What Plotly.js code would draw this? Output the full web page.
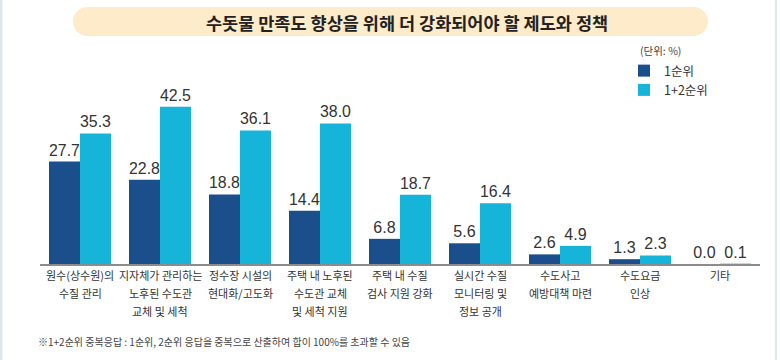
<!DOCTYPE html>
<html>
<head>
<meta charset="utf-8">
<script src="https://cdn.plot.ly/plotly-3.0.1.min.js"></script>
<style>html,body{margin:0;padding:0;background:#fff;}#chart{width:780px;height:360px;}</style>
</head>
<body>
<div id="chart"></div>
<script>
const categories = ['c1','c2','c3','c4','c5','c6','c7','c8','c9'];
const tickLabels = [
  ['원수(상수원)의', '수질 관리'],
  ['지자체가 관리하는', '노후된 수도관', '교체 및 세척'],
  ['정수장 시설의', '현대화/고도화'],
  ['주택 내 노후된', '수도관 교체', '및 세척 지원'],
  ['주택 내 수질', '검사 지원 강화'],
  ['실시간 수질', '모니터링 및', '정보 공개'],
  ['수도사고', '예방대책 마련'],
  ['수도요금', '인상'],
  ['기타']
];
const rank1 = [27.7, 22.8, 18.8, 14.4, 6.8, 5.6, 2.6, 1.3, 0.0];
const rank12 = [35.3, 42.5, 36.1, 38.0, 18.7, 16.4, 4.9, 2.3, 0.1];
const seriesNames = ['1순위', '1+2순위'];

const W = 780, H = 360;
const M = {l: 40, r: 20, t: 60, b: 96};
const PW = W - M.l - M.r, PH = H - M.t - M.b;
const px = v => (v - M.l) / PW;
const py = v => (H - M.b - v) / PH;

const FONT = '"Liberation Sans", Arial, "Noto Sans CJK KR", sans-serif';
const KFONT = '"Noto Sans CJK KR", "Noto Sans", sans-serif';

const traces = [
  {type: 'bar', x: categories, y: rank1, name: seriesNames[0],
   marker: {color: '#1b4f8b'}, texttemplate: '%{y:.1f}', textposition: 'outside',
   textfont: {family: FONT, size: 16, color: '#333'}, cliponaxis: false, hoverinfo: 'none'},
  {type: 'bar', x: categories, y: rank12, name: seriesNames[1],
   marker: {color: '#16b4d9'}, texttemplate: '%{y:.1f}', textposition: 'outside',
   textfont: {family: FONT, size: 16, color: '#333'}, cliponaxis: false, hoverinfo: 'none'}
];

const tickAnnots = [];
tickLabels.forEach((lines, i) => {
  lines.forEach((line, j) => {
    tickAnnots.push({text: line, xref: 'x', yref: 'paper', x: categories[i], y: py(275 + 18 * j),
      xanchor: 'center', yanchor: 'middle', showarrow: false,
      font: {family: KFONT, size: 11, color: '#333'}});
  });
});

const pill = {fillcolor: '#fdebc9', line: {width: 0}, layer: 'below'};
const layout = {
  width: W, height: H,
  margin: M,
  paper_bgcolor: '#fff', plot_bgcolor: 'rgba(0,0,0,0)',
  barmode: 'group', bargap: 0.225, bargroupgap: 0,
  showlegend: true,
  legend: {x: px(624), y: py(56), xanchor: 'left', yanchor: 'top',
    font: {family: KFONT, size: 12.5, color: '#333'}, tracegroupgap: 0,
    itemwidth: 30, bgcolor: 'rgba(0,0,0,0)'},
  xaxis: {type: 'category', showticklabels: false,
    showline: true, linecolor: '#8c8c8c', linewidth: 1.5, ticks: '', showgrid: false,
    fixedrange: true},
  yaxis: {visible: false, range: [0, PH / 3.7], showgrid: false, zeroline: false, fixedrange: true},
  shapes: [
    Object.assign({type: 'rect', xref: 'paper', yref: 'paper', x0: px(87.5), x1: px(693.5), y0: py(36), y1: py(7)}, pill),
    Object.assign({type: 'circle', xref: 'paper', yref: 'paper', x0: px(73), x1: px(102), y0: py(36), y1: py(7)}, pill),
    Object.assign({type: 'circle', xref: 'paper', yref: 'paper', x0: px(679), x1: px(708), y0: py(36), y1: py(7)}, pill),
    {type: 'line', xref: 'paper', yref: 'paper', x0: px(1), x1: px(1), y0: py(0), y1: py(360), line: {color: '#dde7ee', width: 3}},
    {type: 'line', xref: 'paper', yref: 'paper', x0: px(776), x1: px(776), y0: py(0), y1: py(360), line: {color: '#dde7ee', width: 2}}
  ],
  annotations: [
    {text: '<b>수돗물 만족도 향상을 위해 더 강화되어야 할 제도와 정책</b>', xref: 'paper', yref: 'paper',
     x: px(407), y: py(22), xanchor: 'center', yanchor: 'middle', showarrow: false,
     font: {family: KFONT, size: 17.5, color: '#222'}},
    {text: '(단위: %)', xref: 'paper', yref: 'paper', x: px(638), y: py(51),
     xanchor: 'left', yanchor: 'middle', showarrow: false,
     font: {family: KFONT, size: 10.5, color: '#444'}},
    {text: '※1+2순위 중복응답 : 1순위, 2순위 응답을 중복으로 산출하여 합이 100%를 초과할 수 있음', xref: 'paper', yref: 'paper',
     x: px(36), y: py(341), xanchor: 'left', yanchor: 'middle', showarrow: false,
     font: {family: KFONT, size: 10, color: '#444'}}
  ].concat(tickAnnots)
};

Plotly.newPlot('chart', traces, layout, {displayModeBar: false, staticPlot: true});
</script>
</body>
</html>
